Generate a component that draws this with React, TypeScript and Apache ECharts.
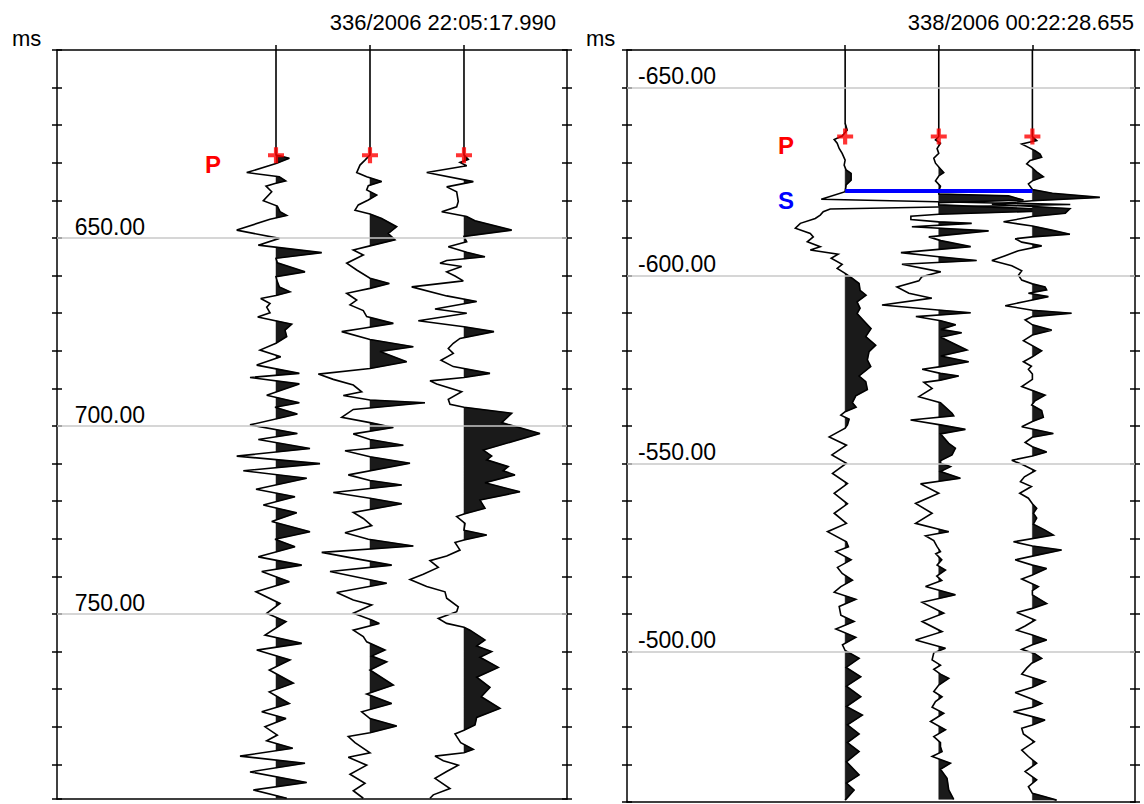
import React, { useEffect, useRef } from 'react';
import * as echarts from 'echarts';

type Pt = [number, number];

// ---- texts ----
const LEFT_TITLE = '336/2006 22:05:17.990';
const RIGHT_TITLE = '338/2006 00:22:28.655';
const UNIT = 'ms';

// ---- axes ----
const LEFT_RANGE: [number, number] = [600, 799.2];
const RIGHT_RANGE: [number, number] = [-660, -460];
const TICK_STEP = 10;
const LABEL_STEP = 50;
const LEFT_GRID_VALUES = [650, 700, 750];
const RIGHT_GRID_VALUES = [-650, -600, -550, -500];
const TRACE_POS = [1, 2, 3];
const X_RANGE: [number, number] = [-1.33, 4.096];
const GAIN = 1 / 94; // trace spacing per amplitude count
const CLIP = 150; // amplitudes above this are not filled

// ---- picks ----
const LEFT_P_PICK = 628;
const RIGHT_P_PICK = -637;
const RIGHT_S_PICK = -622.5;

// ---- traces: [time ms, amplitude counts] ----
const left1: Pt[] = [[600,0],[627.9,0],[628.8,13.3],[630.2,0],[632.6,-29.3],[633.7,3.3],[634.8,9.7],[635.5,-1],[636.2,-10],[637.7,-4.3],[640.1,-12.7],[641.5,1.3],[643.0,4],[644.0,10.7],[645.0,-6],[647.9,-39.3],[650.1,3.3],[651.9,-17.7],[653.9,45.7],[655.4,0],[656.6,1.3],[659.0,29],[660.3,0],[661.6,1.3],[663.0,3.3],[664.3,14],[665.3,0],[666.1,-15.3],[667.4,-6],[668.4,-9.3],[669.9,-6],[671.0,-18.3],[672.9,15.7],[674.5,9],[676.2,10.7],[678.0,0],[679.8,-16],[681.6,4.7],[683.8,-19.3],[686.0,23.3],[687.1,-26],[688.8,23.3],[691.8,-9.3],[693.8,23.3],[695.0,-1],[696.8,21.3],[699.7,-26],[702.0,21.3],[703.6,-17.7],[706.0,34],[708.0,-39.3],[710.0,44],[711.9,-32.7],[713.9,30.7],[716.8,-20],[718.8,19],[721.0,-12.7],[723.1,20.7],[725.4,-4.3],[728.1,34],[730.1,-1],[732.1,19],[734.8,-17.7],[737.0,25.7],[738.7,-14.3],[741.4,13.3],[744.1,-20],[747.2,4],[749.8,-9.3],[752.0,10],[755.6,-11],[757.8,25.7],[759.6,-19.3],[762.2,14],[764.9,-6.7],[768.4,17.3],[770.7,-6.7],[773.8,13.3],[776.0,-14.3],[777.8,10],[780.0,-11],[782.2,1.3],[783.7,-9.3],[785.7,16.7],[787.8,-36],[789.7,29],[792.0,-26],[794.8,30.7],[796.8,-22.7],[799.0,10.7]];

const left2: Pt[] = [[600,0],[627.9,0],[629.3,-5],[630.6,-10],[632.6,-13.3],[633.7,-3.3],[635.0,11.7],[636.1,-1.7],[637.2,-3.3],[638.6,6.7],[639.9,-1.7],[641.2,-11.7],[642.6,-15],[643.6,0],[644.8,11.7],[647.0,26.7],[648.8,18.3],[650.5,25],[652.1,0],[653.2,-16.7],[654.5,-6.7],[656.7,-23.3],[658.5,-13.3],[660.7,0],[662.1,19.3],[663.4,0],[664.7,-23.3],[666.5,-13.3],[667.8,-20],[669.3,-6.7],[670.9,-3.3],[672.7,23.3],[674.0,-6.7],[674.9,-28.3],[677.0,0],[678.9,43.3],[680.2,10],[682.9,36.7],[684.7,0],[686.2,-51.7],[687.6,-36.7],[689.1,-16.7],[690.9,-8.3],[691.9,-26.7],[693.1,0],[693.8,55],[695.6,-16.7],[697.7,-28.3],[699.1,0],[700.4,23.3],[702.1,-16.7],[703.6,0],[705.1,33.3],[706.6,-25],[708.2,0],[709.9,40],[713.0,-21.7],[714.5,0],[715.7,31.7],[717.7,-36.7],[719.2,0],[720.7,31.7],[723.0,-16.7],[724.6,-6.7],[726.5,1.7],[728.4,-25],[730.1,-1.7],[731.9,43.3],[733.6,-48.3],[735.0,-20],[737.0,21.7],[738.7,-40],[741.8,16.7],[744.3,-33.3],[746.3,-16.7],[747.6,1.7],[749.8,-16.7],[751.6,1.7],[752.5,9.3],[754.3,-16.7],[756.0,-6.7],[757.4,-3.3],[759.6,15],[761.2,1.7],[762.7,16.7],[764.9,0],[768.9,23.3],[771.3,-3.3],[773.8,21.7],[776.0,-8.3],[777.8,0],[779.8,26.7],[781.6,0],[782.6,-21.7],[784.2,-15],[786.9,0],[788.1,-21.7],[790.2,-3.3],[792.6,-20],[795.0,-5],[797.0,-16.7],[799.0,-6.7]];

const left3: Pt[] = [[600,0],[627.9,0],[629.1,4.3],[629.9,-4],[630.8,2.7],[632.6,-37.3],[635.0,9.3],[636.4,-17.3],[637.7,-7.3],[640.3,-5.7],[641.7,-7.3],[643.0,-22.3],[644.3,2.7],[645.4,11],[647.9,47.7],[649.6,0],[651.0,2.7],[652.3,-15.7],[653.8,2.7],[655.0,21],[656.0,-17.3],[656.7,-24],[657.6,-2.3],[659.0,-17.3],[660.1,-9],[661.4,-0.7],[663.0,-52.3],[665.4,-17.3],[666.9,12.7],[668.9,-29],[670.0,2.7],[672.0,-45.7],[673.6,0],[674.9,30],[676.7,-4],[678.0,-10.7],[679.4,-15.7],[680.7,-10.7],[682.5,-23],[684.2,-10.7],[686.0,26],[687.1,0],[688.0,-34],[688.8,-27.3],[690.9,-2.3],[692.9,-15.7],[694.2,-14],[695.0,0],[696.6,47.7],[699.1,37.7],[702.0,76],[706.4,19.3],[708.0,27.7],[709.0,22.7],[710.8,44.3],[711.9,39],[713.0,51],[715.1,21],[717.5,56],[719.7,16],[721.9,21],[723.4,0],[724.1,-7.3],[725.9,1],[727.7,0],[729.0,22.7],[730.3,0],[731.0,-9],[733.0,-4],[734.6,-17.3],[735.8,-34],[737.6,-25.7],[739.4,-40.7],[740.8,-54],[742.7,-37.3],[744.1,-19],[745.8,-17.3],[748.1,-5.7],[749.4,-7.3],[751.2,-25.7],[752.5,-17.3],[753.5,0],[754.3,6],[756.9,21],[758.5,12.7],[760.0,27.7],[761.5,16],[764.2,34.3],[766.8,12.7],[769.5,26],[772.0,17.3],[775.1,36],[777.5,12.7],[779.5,11],[780.9,0],[781.9,-9],[784.2,-3.3],[786.0,9.3],[786.9,0],[787.8,-29],[789.0,-20.7],[790.2,-5.7],[791.9,-17.3],[793.7,-29],[796.4,-14],[798.1,-30.7],[799.0,-34]];

const right1: Pt[] = [[-660,0],[-640.5,0],[-638.7,2],[-637.1,-3],[-636.2,-11],[-635.2,-8],[-633.8,-6],[-632.5,-3],[-630.7,0],[-629.4,-1],[-628.1,1],[-627.2,6],[-625.4,6],[-624.1,1],[-622.3,0],[-620.3,-24],[-618.9,226],[-617.7,-15],[-617.0,-22],[-616.1,-25],[-615.2,-30],[-613.9,-45],[-612.6,-50],[-611.2,-35],[-610.3,-32],[-609.0,-38],[-607.7,-25],[-606.8,-35],[-605.7,-7],[-604.6,-14],[-603.0,-3],[-601.9,-8],[-600.6,0],[-599.3,7],[-597.9,14],[-596.1,15],[-594.8,21],[-593.0,12],[-591.3,15],[-589.9,12],[-588.2,18],[-585.9,26],[-583.8,20.7],[-581.5,30.7],[-579.8,24],[-577.6,22.3],[-575.8,25.7],[-573.3,14],[-571.8,20.7],[-569.7,22.3],[-568.0,10.7],[-566.2,7.3],[-565.0,11],[-563.8,0],[-562.9,-4.3],[-561.8,4],[-560.3,2.3],[-559.4,0],[-557.1,-16],[-554.9,1.3],[-552.3,-13.3],[-550.1,1.3],[-547.4,-12.7],[-544.7,2.3],[-542.1,-11],[-539.3,2.3],[-536.8,-11],[-534.1,1.3],[-531.9,-17.7],[-529.2,1.3],[-527.9,3.3],[-526.6,-9.3],[-524.4,6],[-522.4,-7.7],[-520.8,-3],[-519.0,7.3],[-517.3,-4.3],[-515.8,-11],[-513.9,10.7],[-512.0,-6],[-509.7,-4.3],[-508.0,9],[-506.0,-9.3],[-503.8,10.7],[-501.8,-2.7],[-500.3,0],[-498.2,14],[-495.8,1],[-493.3,15.7],[-490.8,1.3],[-488.0,15.7],[-485.4,1.3],[-483.1,17.3],[-480.5,2.3],[-478.1,14],[-475.8,2.3],[-473.4,14],[-470.7,1.3],[-467.2,14],[-465.0,1.3],[-463.2,9],[-460.5,0]];

const right2: Pt[] = [[-660,0],[-637.0,0],[-636.1,-3.3],[-635.2,1.7],[-633.8,-1.7],[-632.5,0],[-631.2,-5],[-629.9,-3.3],[-628.3,2],[-627.4,5],[-626.5,0],[-625.2,-3.3],[-623.8,1.7],[-622.5,0],[-621.7,0],[-621.2,70],[-620.1,85],[-619.4,0],[-618.8,0],[-617.4,130],[-616.3,0],[-615.8,-28],[-614.9,-28],[-614.3,0],[-613.9,33],[-613.0,-27],[-611.9,50],[-610.3,-10],[-609.3,2],[-607.7,32],[-606.1,-38],[-605.0,0],[-604.0,38],[-603.0,-37],[-601.0,2],[-599.7,-17],[-598.6,-20],[-597.0,-42],[-595.3,-30],[-594.0,-7],[-592.2,-57],[-590.8,2],[-590.1,32],[-589.1,-23],[-588.0,2],[-586.9,17],[-585.7,2],[-584.8,23],[-583.6,2],[-580.2,28.3],[-578.6,2],[-577.1,30],[-575.8,2],[-575.1,-16.7],[-574.0,1.7],[-573.3,20],[-572.2,1.7],[-571.6,-15],[-570.0,-6.7],[-567.8,-20],[-566.2,1.7],[-563.4,13.3],[-562.7,15],[-561.6,-28.3],[-560.3,1.7],[-559.1,26.7],[-557.9,1.7],[-555.4,10],[-554.1,16.7],[-552.3,13.3],[-550.8,2],[-550.1,1.7],[-549.2,11.7],[-547.9,1.7],[-546.1,21.7],[-544.6,-18.3],[-542.1,0],[-539.4,-23.3],[-536.8,-6.7],[-534.1,-23.3],[-531.9,10],[-530.8,-13.3],[-529.5,-5],[-527.9,-1.7],[-526.6,1.7],[-526.0,-3],[-524.4,3],[-523.0,-1.7],[-521.7,6.7],[-520.1,-2],[-518.9,3],[-517.3,-13.3],[-515.1,16.7],[-513.1,-16.7],[-510.2,5],[-508.0,-16.7],[-505.3,3.3],[-503.1,-23.3],[-500.9,6.7],[-499.7,-5],[-497.8,-6.7],[-496.4,1.7],[-495.3,-5],[-494.0,1.7],[-492.9,10],[-491.1,0],[-489.4,-5],[-488.0,3.3],[-486.7,-3.3],[-485.2,-6.7],[-483.6,5],[-481.4,-8.3],[-479.2,6.7],[-477.4,-5],[-475.8,1.7],[-474.7,1.7],[-473.4,3.3],[-472.1,-6.7],[-470.3,11.7],[-468.7,1.7],[-466.3,8.3],[-463.2,10],[-460.7,15]];

const right3: Pt[] = [[-660,0],[-637.0,0],[-635.9,4.3],[-635.0,-10.7],[-634.1,-4],[-633.2,2.7],[-632.3,7.7],[-631.5,9.3],[-630.6,-2.3],[-629.7,-5.7],[-628.8,-0.7],[-627.6,4.3],[-626.3,11],[-625.2,0],[-624.4,-4],[-622.9,0],[-621.9,20],[-620.8,67.7],[-619.9,0],[-619.0,-40.7],[-617.8,37.7],[-616.6,33],[-615.7,0],[-614.3,-29],[-613.2,0],[-612.1,19.3],[-611.0,37.7],[-610.3,0],[-609.8,-17.3],[-608.9,-10.7],[-607.9,9.3],[-606.6,-14],[-605.3,-27.3],[-604.0,-40.7],[-602.6,-20.7],[-601.3,-10.7],[-600.1,-14],[-598.8,-10.7],[-597.8,0],[-597.0,12.7],[-596.2,14.3],[-595.3,-4],[-594.4,16],[-593.1,-7.3],[-592.0,-27.3],[-590.8,0],[-590.0,39.3],[-589.1,0],[-588.2,-7.3],[-586.9,0],[-585.5,19.3],[-584.2,0],[-582.7,-9],[-580.0,9.3],[-578.4,0],[-577.1,-9],[-575.9,-1],[-575.1,-4],[-573.8,0],[-572.4,0],[-570.5,-10.7],[-568.2,12.7],[-566.7,2.7],[-565.6,-0.7],[-564.1,9.3],[-562.3,11],[-561.2,0],[-559.8,-10.7],[-558.0,21],[-557.0,0],[-555.6,-7.3],[-554.5,0],[-553.1,14.3],[-552.0,0],[-550.9,-20.7],[-549.6,-9],[-548.1,2.7],[-546.5,-8],[-545.2,-12],[-543.9,-1],[-542.1,-12.7],[-540.8,-4],[-539.3,0],[-538.1,4.3],[-536.8,1],[-535.5,4.3],[-533.9,1],[-532.3,12.7],[-531.0,21],[-529.2,-19],[-528.1,0],[-527.0,29.3],[-525.4,0],[-524.4,-17.3],[-523.0,0],[-522.1,14.3],[-520.4,0],[-519.3,-10.7],[-517.3,6],[-516.2,0],[-515.1,0],[-512.8,14.3],[-511.5,0],[-510.4,-15.7],[-508.4,2.7],[-506.8,-7.3],[-505.7,-15.7],[-504.4,0],[-503.1,14.3],[-501.8,0],[-500.6,-10.7],[-499.4,2.7],[-498.2,9.3],[-496.9,-0.7],[-495.6,-5.7],[-494.0,-10.7],[-492.0,12.7],[-490.5,0],[-489.1,-17.3],[-487.3,0],[-486.2,9.3],[-485.2,0],[-484.0,-19],[-482.7,0],[-481.8,12.7],[-480.5,0],[-479.6,-10.7],[-478.1,-9],[-476.0,2],[-473.8,-10.7],[-472.1,-4],[-470.3,4.3],[-468.1,-7.3],[-465.9,4.3],[-464.1,-4],[-462.3,0],[-461.4,12.7],[-460.5,24.3]];

const LEFT_TRACES = [left1, left2, left3];
const RIGHT_TRACES = [right1, right2, right3];

const FONT = '"Liberation Sans", Arial, Helvetica, sans-serif';
const FILL = '#1a1a1a';
const PLUS = 'path://M0,3.7H3.7V0H6.3V3.7H10V6.3H6.3V10H3.7V6.3H0Z';

function makeRenderItem(traces: Pt[][]) {
  return (params: any, api: any) => {
    const base = api.value(0);
    const tr = traces[base - 1];
    const pt = (t: number, a: number) => api.coord([base + a * GAIN, t]);
    const line = tr.map(([t, a]) => pt(t, a));
    const polys: number[][][] = [];
    let poly: number[][] = [];
    let prevT = 0;
    let prevF = 0;
    tr.forEach(([t, a], i) => {
      const f = a > CLIP ? -1 : a;
      if (i > 0 && (prevF > 0) !== (f > 0)) {
        const tc = prevT + ((t - prevT) * (0 - prevF)) / (f - prevF);
        if (f > 0) {
          poly = [pt(tc, 0)];
        } else {
          poly.push(pt(tc, 0));
          if (poly.length > 2) polys.push(poly);
          poly = [];
        }
      } else if (i === 0 && f > 0) {
        poly = [pt(t, 0)];
      }
      if (f > 0) poly.push(pt(t, f));
      prevT = t;
      prevF = f;
    });
    if (poly.length > 1) {
      poly.push(pt(prevT, 0));
      polys.push(poly);
    }
    const children: any[] = polys.map((p) => ({
      type: 'polygon',
      shape: { points: p },
      style: { fill: FILL, stroke: FILL, lineWidth: 0.5 },
    }));
    children.push({
      type: 'polyline',
      shape: { points: line },
      style: { stroke: '#000', lineWidth: 1.6, fill: null, lineJoin: 'miter', miterLimit: 3 },
    });
    return { type: 'group', children };
  };
}

const lineStyle = { color: '#000', width: 1.5 };

function yAxesFor(gridIndex: number, range: [number, number], labelMargin: number) {
  const common = {
    type: 'value',
    gridIndex,
    inverse: true,
    min: range[0],
    max: range[1],
    interval: TICK_STEP,
    splitLine: { show: false },
  };
  return [
    {
      ...common,
      position: 'left',
      axisLine: { show: true, onZero: false, lineStyle },
      axisTick: { show: true, inside: true, length: 5, lineStyle },
      axisLabel: {
        show: true,
        inside: true,
        align: 'right',
        verticalAlign: 'bottom',
        margin: labelMargin,
        color: '#000',
        fontFamily: FONT,
        fontSize: 23,
        formatter: (v: number) =>
          Math.abs(v % LABEL_STEP) < 1e-6 && v > range[0] ? v.toFixed(2) : '',
      },
    },
    {
      ...common,
      position: 'left',
      axisLine: { show: false, onZero: false },
      axisTick: { show: true, inside: false, length: 5, lineStyle },
      axisLabel: { show: false },
    },
    {
      ...common,
      position: 'right',
      axisLine: { show: true, onZero: false, lineStyle },
      axisTick: { show: true, inside: true, length: 5, lineStyle },
      axisLabel: { show: false },
    },
    {
      ...common,
      position: 'right',
      axisLine: { show: false, onZero: false },
      axisTick: { show: true, inside: false, length: 5, lineStyle },
      axisLabel: { show: false },
    },
  ];
}

function xAxesFor(gridIndex: number) {
  const common = {
    type: 'value',
    gridIndex,
    min: X_RANGE[0],
    max: X_RANGE[1],
    splitLine: { show: false },
    axisLabel: { show: false },
  };
  return [
    {
      ...common,
      position: 'bottom',
      axisLine: { show: true, onZero: false, lineStyle },
      axisTick: { show: false },
    },
    {
      ...common,
      position: 'top',
      axisLine: { show: true, onZero: false, lineStyle },
      axisTick: { show: true, inside: false, length: 5, customValues: TRACE_POS, lineStyle },
      axisLabel: { show: false, customValues: TRACE_POS },
    },
  ];
}

function panelSeries(
  xIdx: number,
  yIdx: number,
  traces: Pt[][],
  pick: number,
  gridValues: number[]
) {
  return [
    {
      type: 'line',
      xAxisIndex: xIdx,
      yAxisIndex: yIdx,
      data: [],
      z: 1,
      silent: true,
      markLine: {
        silent: true,
        symbol: 'none',
        label: { show: false },
        lineStyle: { color: '#c8c8c8', width: 1.5, type: 'solid' },
        data: gridValues.map((v) => ({ yAxis: v })),
      },
    },
    {
      type: 'custom',
      xAxisIndex: xIdx,
      yAxisIndex: yIdx,
      data: TRACE_POS.map((p) => [p, pick]),
      encode: { x: 0, y: 1 },
      renderItem: makeRenderItem(traces),
      z: 3,
      silent: true,
      clip: false,
    },
    {
      type: 'scatter',
      xAxisIndex: xIdx,
      yAxisIndex: yIdx,
      data: TRACE_POS.map((p) => [p, pick]),
      symbol: PLUS,
      symbolSize: 16,
      itemStyle: { color: '#ff0000' },
      z: 6,
      silent: true,
    },
  ];
}

export default function App() {
  const ref = useRef<HTMLDivElement>(null);
  useEffect(() => {
    if (!ref.current) return;
    const chart = echarts.init(ref.current, undefined, { renderer: 'svg' });
    const option: any = {
      animation: false,
      backgroundColor: '#fff',
      grid: [
        { left: 57, top: 50, width: 510, height: 749 },
        { left: 627, top: 50, width: 508, height: 752 },
      ],
      xAxis: [...xAxesFor(0), ...xAxesFor(1)],
      yAxis: [...yAxesFor(0, LEFT_RANGE, 88), ...yAxesFor(1, RIGHT_RANGE, 89)],
      series: [
        ...panelSeries(0, 0, LEFT_TRACES, LEFT_P_PICK, LEFT_GRID_VALUES),
        ...panelSeries(2, 4, RIGHT_TRACES, RIGHT_P_PICK, RIGHT_GRID_VALUES),
        {
          type: 'line',
          xAxisIndex: 2,
          yAxisIndex: 4,
          data: [
            [TRACE_POS[0], RIGHT_S_PICK],
            [TRACE_POS[2], RIGHT_S_PICK],
          ],
          symbol: 'none',
          lineStyle: { color: '#0000ff', width: 4 },
          z: 5,
          silent: true,
        },
      ],
      graphic: [
        {
          type: 'text',
          style: { text: LEFT_TITLE, x: 556, y: 22, font: `22px ${FONT}`, fill: '#000', textAlign: 'right', textVerticalAlign: 'middle' },
        },
        {
          type: 'text',
          style: { text: RIGHT_TITLE, x: 1134, y: 22, font: `22px ${FONT}`, fill: '#000', textAlign: 'right', textVerticalAlign: 'middle' },
        },
        {
          type: 'text',
          style: { text: UNIT, x: 12, y: 38, font: `22px ${FONT}`, fill: '#000', textAlign: 'left', textVerticalAlign: 'middle' },
        },
        {
          type: 'text',
          style: { text: UNIT, x: 586, y: 38, font: `22px ${FONT}`, fill: '#000', textAlign: 'left', textVerticalAlign: 'middle' },
        },
        {
          type: 'text',
          style: { text: 'P', x: 213, y: 164, font: `bold 24px ${FONT}`, fill: '#ff0000', textAlign: 'center', textVerticalAlign: 'middle' },
        },
        {
          type: 'text',
          style: { text: 'P', x: 786, y: 145, font: `bold 24px ${FONT}`, fill: '#ff0000', textAlign: 'center', textVerticalAlign: 'middle' },
        },
        {
          type: 'text',
          style: { text: 'S', x: 786, y: 200, font: `bold 24px ${FONT}`, fill: '#0000ff', textAlign: 'center', textVerticalAlign: 'middle' },
        },
      ],
    };
    chart.setOption(option);
    return () => chart.dispose();
  }, []);
  return (
    <div
      ref={ref}
      style={{ position: 'fixed', left: 0, top: 0, width: 1144, height: 804, background: '#fff' }}
    />
  );
}
